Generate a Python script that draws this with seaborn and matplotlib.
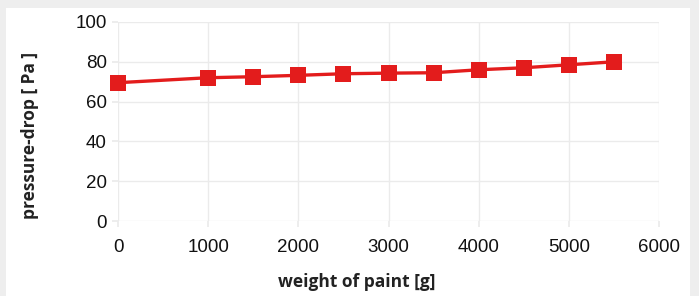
import matplotlib
matplotlib.use("Agg")
import matplotlib.pyplot as plt
import seaborn as sns
import pandas as pd
from matplotlib.patches import Rectangle

weight_g = [0, 1000, 1500, 2000, 2500, 3000, 3500, 4000, 4500, 5000, 5500]
pressure_pa = [69.5, 72, 72.5, 73.2, 74, 74.3, 74.5, 76, 77, 78.5, 80]
x_ticks = [0, 1000, 2000, 3000, 4000, 5000, 6000]
y_ticks = [0, 20, 40, 60, 80, 100]

df = pd.DataFrame({"weight": weight_g, "pressure": pressure_pa})

sns.set_theme(style="white")
plt.rcParams['font.family'] = ['Liberation Sans', 'DejaVu Sans']

fig = plt.figure(figsize=(6.99, 2.96), dpi=100)
fig.patch.set_facecolor("#eeeeee")
bg = Rectangle((6/699, 0), 684/699, 1 - 8/296, transform=fig.transFigure,
               facecolor="white", edgecolor="none", zorder=-10)
fig.add_artist(bg)

ax = fig.add_axes([118/699, 1 - 221/296, (659 - 118)/699, (221 - 22)/296])
ax.set_zorder(5)
ax.set_facecolor("white")
sns.lineplot(data=df, x="weight", y="pressure", ax=ax, color="#e31c1c",
             marker="s", markersize=11, linewidth=2.4, markeredgewidth=0)
for ln in ax.lines:
    ln.set_clip_on(False)

ax.set_xlim(0, 6000)
ax.set_ylim(0, 100)
ax.set_xticks(x_ticks)
ax.set_yticks(y_ticks)
ax.grid(True, color="#ebebeb", linewidth=1)
for s in ax.spines.values():
    s.set_visible(False)
ax.tick_params(axis="both", which="both", length=4, color="#ebebeb", labelsize=13.5,
               labelcolor="#111111", bottom=True, left=True)
ax.tick_params(axis="x", pad=9)
ax.tick_params(axis="y", pad=4)
ax.set_xlabel("")
ax.set_ylabel("")
fig.text(357/699, 1 - 282/296, "weight of paint [g]", fontsize=12.5, fontweight="bold",
         family=["Open Sans", "DejaVu Sans"], color="#222222", ha="center", va="center")
fig.text(30/699, 1 - 135/296, "pressure-drop [ Pa ]", fontsize=12.5, fontweight="bold",
         family=["Open Sans", "DejaVu Sans"], color="#222222", ha="center", va="center",
         rotation=90)

fig.savefig("out.png", dpi=100, facecolor=fig.get_facecolor())
